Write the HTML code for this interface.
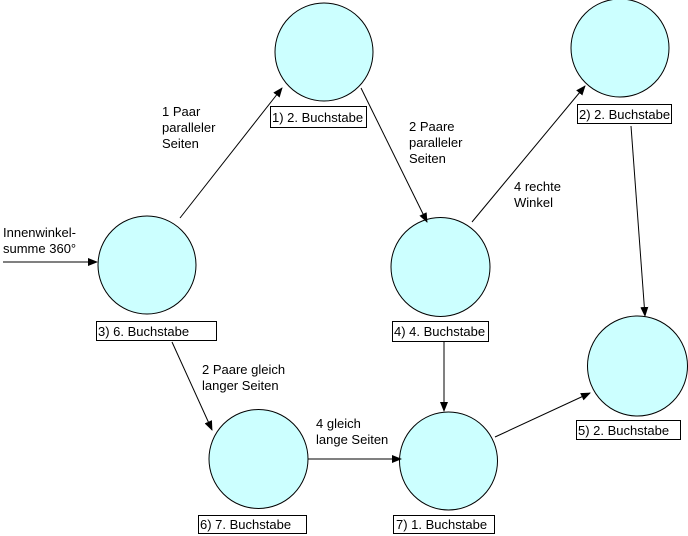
<!DOCTYPE html>
<html><head><style>
body{margin:0;background:#fff}
svg{display:block}
text{font-family:"Liberation Sans",Arial,sans-serif;font-size:13px;fill:#000}
</style></head><body>
<svg width="688" height="536" viewBox="0 0 688 536">
<defs><marker id="a" markerWidth="10" markerHeight="8" refX="9" refY="4" orient="auto" markerUnits="userSpaceOnUse"><path d="M0,0 L10,4 L0,8 z" fill="#000"/></marker></defs>
<g fill="#ccffff" stroke="#000" stroke-width="1">
<circle cx="324" cy="52" r="49"/>
<circle cx="620" cy="48" r="49"/>
<circle cx="147" cy="265" r="49"/>
<circle cx="440.5" cy="267" r="49.5"/>
<circle cx="637.5" cy="366" r="50"/>
<circle cx="258.5" cy="459" r="49.5"/>
<circle cx="448.5" cy="461" r="49"/>
</g>
<g stroke="#000" stroke-width="1" fill="none" marker-end="url(#a)">
<line x1="3" y1="262" x2="97" y2="262"/>
<line x1="180" y1="218" x2="282" y2="88"/>
<line x1="361" y1="88" x2="427" y2="222"/>
<line x1="472" y1="222" x2="585" y2="86"/>
<line x1="631" y1="126" x2="645" y2="316"/>
<line x1="172" y1="342" x2="212" y2="430"/>
<line x1="308" y1="459" x2="401" y2="459"/>
<line x1="444" y1="342" x2="444" y2="411"/>
<line x1="495" y1="437" x2="590" y2="393"/>
</g>
<g fill="#fff" stroke="#000" stroke-width="1">
<rect x="270.5" y="106.5" width="96" height="21"/>
<rect x="577.5" y="104.5" width="94" height="19"/>
<rect x="96.5" y="321.5" width="120" height="19"/>
<rect x="392.5" y="321.5" width="96" height="20"/>
<rect x="576.5" y="420.5" width="104" height="19"/>
<rect x="198.5" y="515.5" width="108" height="18"/>
<rect x="393.5" y="515.5" width="101" height="18"/>
</g>
<text x="272" y="122">1) 2. Buchstabe</text>
<text x="579" y="119">2) 2. Buchstabe</text>
<text x="98" y="336">3) 6. Buchstabe</text>
<text x="394" y="336">4) 4. Buchstabe</text>
<text x="578" y="435">5) 2. Buchstabe</text>
<text x="200" y="529">6) 7. Buchstabe</text>
<text x="396" y="529">7) 1. Buchstabe</text>
<text x="162" y="116">1 Paar</text><text x="162" y="132">paralleler</text><text x="162" y="148">Seiten</text>
<text x="409" y="131">2 Paare</text><text x="409" y="147">paralleler</text><text x="409" y="163">Seiten</text>
<text x="514" y="191">4 rechte</text><text x="514" y="207">Winkel</text>
<text x="3" y="237">Innenwinkel-</text><text x="3" y="253">summe 360°</text>
<text x="202" y="374">2 Paare gleich</text><text x="202" y="390">langer Seiten</text>
<text x="316" y="428">4 gleich</text><text x="316" y="444">lange Seiten</text>
</svg>
</body></html>
